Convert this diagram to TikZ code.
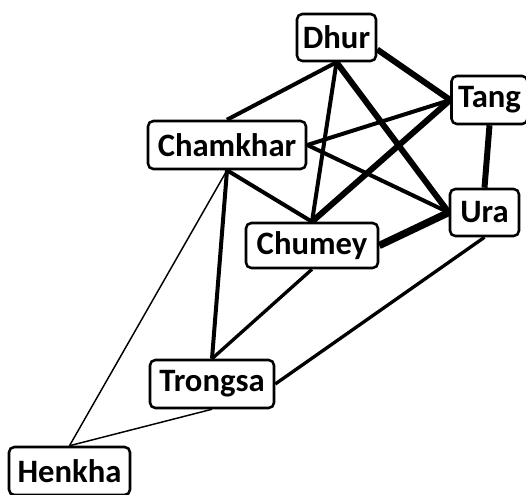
\documentclass[tikz,border=0pt]{standalone}
\usepackage{fontspec}
\setmainfont{Carlito}
\usetikzlibrary{backgrounds}
\begin{document}
\begin{tikzpicture}[x=0.75pt,y=-0.75pt,
  box/.style={draw,line width=1.9pt,rounded corners=4pt,fill=white,inner sep=0pt,
    font=\fontsize{24.5}{28}\selectfont\bfseries},
  w1/.style={line width=1.1pt},
  w3/.style={line width=2.5pt},
  w4/.style={line width=3pt},
  w6/.style={line width=4.5pt},
  w8/.style={line width=5.5pt}]
\useasboundingbox (0,0) rectangle (526,495);
\node[box,minimum width=59.25pt,minimum height=35.25pt] (dhur) at (336.5,37.5) {Dhur};
\node[box,minimum width=57pt,minimum height=36pt] (tang) at (489.5,100) {Tang};
\node[box,minimum width=118.5pt,minimum height=36pt] (cham) at (227,145) {Chamkhar};
\node[box,minimum width=51.75pt,minimum height=35.25pt] (ura) at (484.5,212.5) {Ura};
\node[box,minimum width=99pt,minimum height=33.75pt] (chum) at (312,245.5) {Chumey};
\node[box,minimum width=93pt,minimum height=36pt] (tron) at (212,384) {Trongsa};
\node[box,minimum width=90.75pt,minimum height=36pt] (henk) at (69.5,471) {Henkha};
\begin{scope}[on background layer]
\draw[w4] (dhur.south) -- (cham.north);
\draw[w4] (dhur.south) -- (chum.north);
\draw[w6] (dhur.south) -- (ura.west);
\draw[w6] ([yshift=-9pt]dhur.east) -- (tang.west);
\draw[w4] (cham.east) -- (tang.west);
\draw[w4] (cham.east) -- (ura.west);
\draw[w6] (chum.north) -- (tang.west);
\draw[w8] (chum.east) -- (ura.west);
\draw[w6] (tang.south) -- (ura.north);
\draw[w4] (cham.south) -- (chum.north);
\draw[w4] (cham.south) -- (tron.north);
\draw[w1] (cham.south) -- (henk.north);
\draw[w3] (chum.south) -- (tron.north);
\draw[w3] (ura.south) -- (tron.east);
\draw[w1] (tron.south) -- (henk.north);
\end{scope}
\end{tikzpicture}
\end{document}
